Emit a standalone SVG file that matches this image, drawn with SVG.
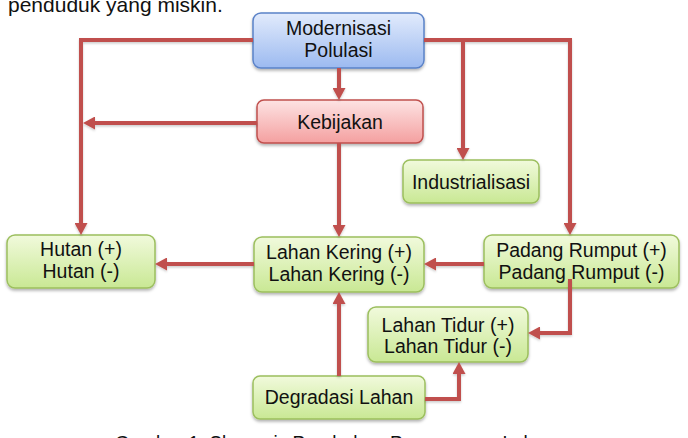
<svg xmlns="http://www.w3.org/2000/svg" width="688" height="438" viewBox="0 0 688 438">
<style>
  .t { font-family: "Liberation Sans", Arial, Helvetica, sans-serif; font-size: 19.5px; fill: #111; text-anchor: middle; }
  .cap { font-family: "Liberation Sans", Arial, Helvetica, sans-serif; font-size: 21px; fill: #111; }
  .g { fill: url(#gGreen); stroke: #9cbf5e; stroke-width: 1.5; filter: url(#sh); }
  .b { fill: url(#gBlue); stroke: #5a82c8; stroke-width: 1.5; filter: url(#sh); }
  .r { fill: url(#gRed); stroke: #c0504d; stroke-width: 1.5; filter: url(#sh); }
  .c { fill: none; stroke: #c0504d; stroke-width: 4; stroke-linejoin: miter; }
</style>
<defs>
  <linearGradient id="gGreen" x1="0" y1="0" x2="0" y2="1">
    <stop offset="0" stop-color="#f1fadc"/>
    <stop offset="1" stop-color="#c9e894"/>
  </linearGradient>
  <linearGradient id="gBlue" x1="0" y1="0" x2="0" y2="1">
    <stop offset="0" stop-color="#e2ebfc"/>
    <stop offset="1" stop-color="#9cbaf0"/>
  </linearGradient>
  <linearGradient id="gRed" x1="0" y1="0" x2="0" y2="1">
    <stop offset="0" stop-color="#fde3e3"/>
    <stop offset="1" stop-color="#f4a0a0"/>
  </linearGradient>
  <filter id="sh" x="-10%" y="-10%" width="120%" height="140%">
    <feDropShadow dx="0" dy="2" stdDeviation="1.5" flood-color="#000" flood-opacity="0.3"/>
  </filter>
  <filter id="lsh" x="-10%" y="-10%" width="120%" height="120%">
    <feDropShadow dx="0" dy="1.5" stdDeviation="1" flood-color="#000" flood-opacity="0.2"/>
  </filter>
  <marker id="ah" markerUnits="userSpaceOnUse" markerWidth="13" markerHeight="13" viewBox="0 0 13 13" refX="6" refY="6.5" orient="auto">
    <path d="M0,0 L12,6.5 L0,13 z" fill="#c0504d"/>
  </marker>
</defs>

<text class="cap" x="8" y="12">penduduk yang miskin.</text>
<text class="cap" x="115" y="450" font-size="19" textLength="440" lengthAdjust="spacingAndGlyphs">Gambar 1. Skema is Perubahan Penggunaan Lahan</text>

<g id="nodes">
  <g id="modernisasi">
    <rect class="b" x="253" y="13" width="171" height="55" rx="8"/>
    <text class="t" x="338.5" y="35">Modernisasi</text>
    <text class="t" x="338.5" y="57">Polulasi</text>
  </g>
  <g id="kebijakan">
    <rect class="r" x="257" y="100" width="166" height="43" rx="7"/>
    <text class="t" x="340" y="129">Kebijakan</text>
  </g>
  <g id="industrialisasi">
    <rect class="g" x="403" y="160" width="136" height="43" rx="7"/>
    <text class="t" x="471" y="189">Industrialisasi</text>
  </g>
  <g id="hutan">
    <rect class="g" x="7" y="235" width="148" height="53" rx="8"/>
    <text class="t" x="81" y="256">Hutan (+)</text>
    <text class="t" x="81" y="278">Hutan (-)</text>
  </g>
  <g id="lahan-kering">
    <rect class="g" x="254" y="237" width="170" height="55" rx="8"/>
    <text class="t" x="339" y="259">Lahan Kering (+)</text>
    <text class="t" x="339" y="281">Lahan Kering (-)</text>
  </g>
  <g id="padang-rumput">
    <rect class="g" x="484" y="235" width="195" height="53" rx="8"/>
    <text class="t" x="581.5" y="257">Padang Rumput (+)</text>
    <text class="t" x="581.5" y="279">Padang Rumput (-)</text>
  </g>
  <g id="lahan-tidur">
    <rect class="g" x="368" y="307" width="160" height="55" rx="8"/>
    <text class="t" x="448" y="332">Lahan Tidur (+)</text>
    <text class="t" x="448" y="353">Lahan Tidur (-)</text>
  </g>
  <g id="degradasi">
    <rect class="g" x="253" y="376" width="172" height="43" rx="7"/>
    <text class="t" x="339" y="404">Degradasi Lahan</text>
  </g>
</g>

<g id="connectors" filter="url(#lsh)">
  <path class="c" d="M253,40 H81 V229" marker-end="url(#ah)"/>
  <path class="c" d="M424,40 H570 V229" marker-end="url(#ah)"/>
  <path class="c" d="M463,40 V154" marker-end="url(#ah)"/>
  <path class="c" d="M339,68 V94" marker-end="url(#ah)"/>
  <path class="c" d="M257,123 H89" marker-end="url(#ah)"/>
  <path class="c" d="M339,143 V231" marker-end="url(#ah)"/>
  <path class="c" d="M484,264 H430" marker-end="url(#ah)"/>
  <path class="c" d="M254,264 H161" marker-end="url(#ah)"/>
  <path class="c" d="M570,279 V333 H534" marker-end="url(#ah)"/>
  <path class="c" d="M339,376 V298" marker-end="url(#ah)"/>
  <path class="c" d="M425,399 H459 V368" marker-end="url(#ah)"/>
</g>
</svg>
